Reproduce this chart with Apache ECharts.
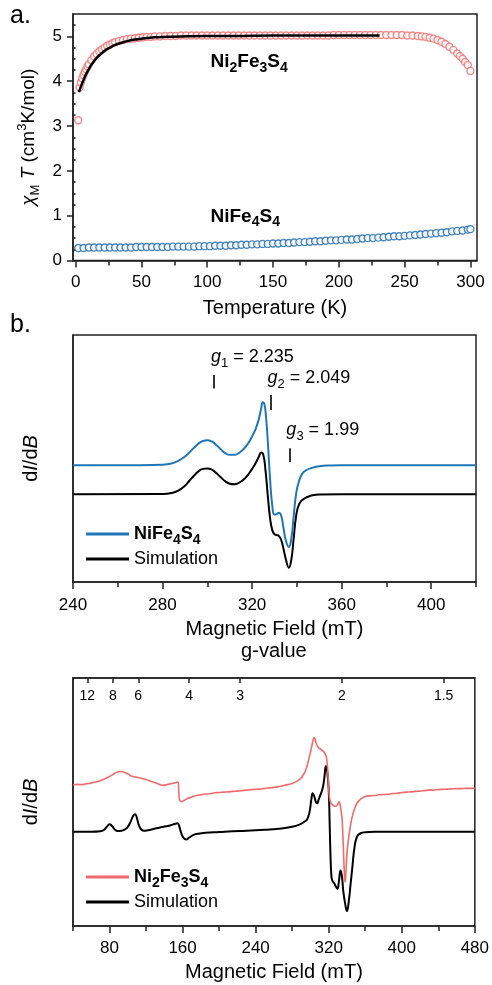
<!DOCTYPE html>
<html><head><meta charset="utf-8">
<script src="https://cdn.jsdelivr.net/npm/echarts@6/dist/echarts.min.js"></script>
<style>html,body{margin:0;padding:0;background:#fff}#c{width:492px;height:985px}</style>
</head><body><div id="c"></div>
<script>
// ---------- Panel a: chi_M T vs T ----------
const redT = [2,3,4,5,6,7,8,9,10,12,14,16,18,20,22,24,26,28,30,33,36,39,42,45,48,51,54,57,60,64,68,72,76,80,84,88,92,96,100,104,108,112,116,120,124,128,132,136,140,144,148,152,156,160,164,168,172,176,180,184,188,192,196,200,204,208,212,216,220,224,228,232,236,240,244,248,252,256,260,263,266,269,272,275,278,281,284,287,290,292,294,296,298,300];
const redChiT = [3.13,3.86,3.97,4.06,4.14,4.21,4.27,4.33,4.38,4.47,4.55,4.61,4.67,4.71,4.75,4.79,4.82,4.85,4.87,4.90,4.92,4.94,4.95,4.96,4.97,4.98,4.99,4.99,5.00,5.00,5.01,5.01,5.01,5.02,5.02,5.02,5.02,5.02,5.02,5.02,5.02,5.02,5.02,5.02,5.02,5.02,5.02,5.02,5.02,5.02,5.02,5.02,5.02,5.02,5.02,5.02,5.02,5.02,5.02,5.02,5.02,5.02,5.03,5.03,5.03,5.03,5.03,5.03,5.03,5.03,5.03,5.03,5.03,5.03,5.03,5.03,5.02,5.02,5.01,5.00,4.99,4.97,4.95,4.92,4.88,4.83,4.77,4.70,4.62,4.56,4.50,4.43,4.36,4.23];
const blueT = [2,6,10,14,18,22,26,30,34,38,42,46,50,54,58,62,66,70,74,78,82,86,90,94,98,102,106,110,114,118,122,126,130,134,138,142,146,150,154,158,162,166,170,174,178,182,186,190,194,198,202,206,210,214,218,222,226,230,234,238,242,246,250,254,258,262,266,270,274,278,282,286,290,294,298,300];
const blueChiT = [0.28,0.28,0.29,0.29,0.29,0.29,0.29,0.29,0.29,0.29,0.29,0.30,0.30,0.30,0.30,0.30,0.30,0.30,0.31,0.31,0.31,0.31,0.31,0.32,0.32,0.32,0.33,0.33,0.33,0.34,0.34,0.35,0.35,0.36,0.36,0.37,0.37,0.38,0.38,0.39,0.39,0.40,0.41,0.41,0.42,0.43,0.43,0.44,0.45,0.45,0.46,0.47,0.47,0.48,0.49,0.50,0.50,0.51,0.52,0.53,0.54,0.54,0.55,0.56,0.57,0.58,0.59,0.60,0.61,0.62,0.63,0.65,0.66,0.67,0.69,0.70];
const fitT = [2.5,4,6,8,10,12,14,16,18,20,23,26,30,35,40,45,50,60,70,80,100,120,150,180,210,231];
const fitChiT = [3.76,3.88,4.03,4.16,4.27,4.37,4.45,4.52,4.58,4.63,4.70,4.75,4.81,4.86,4.90,4.93,4.95,4.98,4.99,5.00,5.01,5.01,5.02,5.02,5.02,5.02];
const tempLabels = [0,50,100,150,200,250,300];
const tempMinor = [25,75,125,175,225,275];
const chiLabels = [0,1,2,3,4,5];
const chiMinor = [0.25,0.5,0.75,1.25,1.5,1.75,2.25,2.5,2.75,3.25,3.5,3.75,4.25,4.5,4.75,5.25];

// ---------- Panel b: NiFe4S4 EPR ----------
const fieldB_exp = [240,270,280,284,287,290,292,294,296,298,300,302,304,306,308,310,312,314,316,318,320,321.5,323,324,324.8,325.5,326.2,327,328,329,330,331,332,333,334,335,336.4,337.5,338.5,339.7,341,342.5,344.2,347,350,355,360,420];
const intB_exp = [47.3,47.3,47.5,48,49,50.8,52.5,54.3,56,57.1,57.4,56.9,55.5,53.7,52.2,51.5,51.5,52.2,53.7,55.8,59,61.8,66,70,72.8,72,67,57,42,31,27.3,27.5,28,26.8,22,17,14.2,17.5,26,36,41,44,45.3,46.3,46.9,47.2,47.3,47.3];
const fieldB_sim = [240,280,284,287,290,292,294,296,298,300,302,304,306,308,310,312,314,316,318,320,321.5,323,324,325,326,327,328,329,330,331,332,333,334,335,336.4,337.5,338.5,339.7,341,342.7,345,347,350,360,420];
const intB_sim = [35.5,35.6,36,37,39,41,43,44.8,45.8,46,45.5,44.1,42.4,40.8,39.8,39.6,40.1,41.3,43.2,45.8,48,50.7,52.4,51.5,45,35,26,21,19.3,19,18.6,17,13.5,9.5,5.8,9,17,27,31.5,33.4,34.5,35.1,35.4,35.5,35.5];
const fieldTicksB = [240,280,320,360,400];
const fieldMinorB = [260,300,340,380,420];
const gMarkField = [302.9,328.3,336.7];
const gNames = ['1','2','3'];
const gVals = ['2.235','2.049','1.99'];

// ---------- Panel c: Ni2Fe3S4 EPR ----------
const fieldC_exp = [40,45,50,55,60,65,70,75,80,85,88,92,96,100,103,106,110,115,120,125,130,135,138,142,146,150,153,155,156,157,159,162,166,170,175,180,185,190,195,200,205,210,215,220,225,230,235,240,245,250,255,260,265,270,275,280,285,289,292,295,298,300,302,304,305,306.5,308,310,312,314.5,316,317.5,318.5,319.5,320.5,321.5,323,325,327,329,330.5,331.5,332.5,333.5,334.5,335.5,336.5,337.5,338.2,339,340,342,343.6,345.4,348,350.9,355,360,365,370,375,380,385,390,395,400,405,410,415,420,425,430,435,440,445,450,455,460,465,470,475,480];
const intC_exp = [56.9,57.1,57.0,57.4,57.6,58.1,58.6,59.4,60.3,61.4,62.0,62.3,62.0,61.4,60.6,60.2,60.0,59.6,59.1,58.4,57.8,57.1,56.7,56.9,57.3,57.6,57.9,58.1,52.5,50.6,50.1,50.7,51.5,52.0,52.6,52.9,53.2,53.3,53.7,53.8,54.0,54.1,54.3,54.4,54.6,54.8,55.0,55.1,55.2,55.5,55.7,55.9,56.2,56.6,57.0,57.5,58.3,59.4,60.8,63,67,70,73.5,76,75.5,73.5,72.3,71.6,71,70.3,69.5,68,65,59,53,50.5,49.3,48.6,48.3,48.5,49.6,50.1,49,46.5,44,37,27,19,17.8,23,29.3,36,40,43.5,47,49.5,51.2,52.2,52.5,52.6,52.9,53.0,53.1,53.4,53.5,53.8,54.0,54.1,54.3,54.4,54.6,54.8,54.8,55.0,55.1,55.2,55.3,55.4,55.4,55.5,55.5,55.5];
const fieldC_sim = [40,60,70,74,77,80,83,86,89,93,97,100,103,106,108,110,112,115,118,122,127,131,136,142,147,151,154.5,156.5,158.5,161,163.8,167,171,175,185,200,215,230,250,265,280,288,293,296.4,299,301,302.5,304,306,307.5,309,311,313,315,317,318.5,320,321,322,323,324,326,328,329.5,331,333,334.5,336,338,340,342,344,346,348,351,355,360,370,480];
const intC_sim = [38.0,38.0,38.2,38.8,40,41,40.2,38.8,38.3,38.4,39,40,42,44.5,45.1,43.5,40.8,38.8,38.4,38.6,39,39.4,39.8,40.2,40.6,41.1,41.4,40,37.5,35.5,34.9,35.6,36.5,37.1,37.6,37.9,38.2,38.4,38.8,39.2,40,40.9,42,43,46,51,53.5,52.5,50,49.5,51,53,55,59,64.5,62,55,42,28,20,18.3,17.2,15.8,15,17.5,22.4,20,14,9,6,10,17,24,31,36,37.4,37.8,38,38];
const fieldTicksC = [80,160,240,320,400,480];
const fieldMinorC = [40,120,200,280,360,440];
const gTopTicks = [12,8,6,4,3,2,1.5];
const mwFreqGHz = 9.36;

// ---------- helpers ----------
const zip = (a, b) => a.map((v, i) => [v, b[i]]);
const F = 'Liberation Sans, Arial, sans-serif';
const RED = '#f26b6b', BLUE_A = '#1a69aa', BLUE_B = '#1f77b7', AX = '#222';
const gToField = g => 71.4477 * mwFreqGHz / g;
const gTopFields = gTopTicks.map(gToField);

const subRich = (size) => ({
  b: {fontFamily: F, fontWeight: 'bold', fontSize: size, lineHeight: 26, color: '#000', opacity: 1},
  bs: {fontFamily: F, fontWeight: 'bold', fontSize: Math.round(size * 0.75), lineHeight: 15, verticalAlign: 'bottom', color: '#000', opacity: 1},
  n: {fontFamily: F, fontSize: size, lineHeight: 26, color: '#000', opacity: 1},
  gi: {fontFamily: F, fontStyle: 'italic', fontSize: size, lineHeight: 26, color: '#000', opacity: 1},
  s: {fontFamily: F, fontSize: Math.round(size * 0.72), lineHeight: 15, verticalAlign: 'bottom', color: '#000', opacity: 1}
});
const formula = name => {
  if (name === 'NiFe4S4') return '{b|NiFe}{bs|4}{b|S}{bs|4}';
  if (name === 'Ni2Fe3S4') return '{b|Ni}{bs|2}{b|Fe}{bs|3}{b|S}{bs|4}';
  return '{n|' + name + '}';
};

const mainX = (grid, min, max, labels, ticks, margin, name, gap) => ({
  type: 'value', gridIndex: grid, position: 'bottom', min, max,
  name, nameLocation: 'middle', nameGap: gap,
  nameTextStyle: {fontFamily: F, fontSize: 20, color: '#000'},
  axisLine: {show: true, onZero: false, lineStyle: {color: AX, width: 1.5}},
  axisTick: {show: true, inside: false, length: 7, customValues: ticks, lineStyle: {color: AX, width: 1.5}},
  axisLabel: {show: true, margin, customValues: labels, fontFamily: F, fontSize: 17, color: '#000'},
  splitLine: {show: false}
});
const minorX = (grid, min, max, ticks) => ({
  type: 'value', gridIndex: grid, position: 'bottom', min, max,
  axisLine: {show: false}, axisLabel: {show: false}, splitLine: {show: false},
  axisTick: {show: true, inside: false, length: 5, customValues: ticks, lineStyle: {color: AX, width: 1.5}}
});
const eprY = (grid) => ({
  type: 'value', gridIndex: grid, min: 0, max: 100, position: 'left',
  name: '{n|d}{i|I}{n|/d}{i|B}', nameLocation: 'middle', nameGap: 32,
  nameTextStyle: {fontFamily: F, fontSize: 20, color: '#000',
    rich: {n: {fontFamily: F, fontSize: 20, color: '#000'}, i: {fontFamily: F, fontSize: 20, fontStyle: 'italic', color: '#000'}}},
  axisLine: {show: true, lineStyle: {color: AX, width: 1.5}},
  axisTick: {show: false}, axisLabel: {show: false}, splitLine: {show: false}
});
const textLabel = (rich, fmt) => ({show: true, position: 'right', distance: 0, color: '#000', opacity: 1, formatter: fmt, rich});

const option = {
  animation: false,
  backgroundColor: '#fff',
  graphic: [
    {type: 'text', left: 10, top: 4, style: {text: 'a.', font: '25px ' + F, fill: '#000'}},
    {type: 'text', left: 10, top: 313, style: {text: 'b.', font: '25px ' + F, fill: '#000'}}
  ],
  grid: [
    {left: 73, top: 14, width: 404, height: 246.5, show: true, borderColor: AX, borderWidth: 1.5, backgroundColor: 'transparent'},
    {left: 73, top: 335, width: 403, height: 247, show: true, borderColor: AX, borderWidth: 1.5, backgroundColor: 'transparent'},
    {left: 73, top: 678, width: 403, height: 248, show: true, borderColor: AX, borderWidth: 1.5, backgroundColor: 'transparent'}
  ],
  xAxis: [
    mainX(0, -2, 305, tempLabels, tempLabels, 13, 'Temperature (K)', 38),
    minorX(0, -2, 305, tempMinor),
    mainX(1, 240, 420, fieldTicksB, fieldTicksB, 15, 'Magnetic Field (mT)', 37),
    minorX(1, 240, 420, fieldMinorB),
    mainX(2, 40, 480, fieldTicksC, fieldTicksC, 14, 'Magnetic Field (mT)', 36),
    minorX(2, 40, 480, fieldMinorC),
    {
      type: 'value', gridIndex: 2, position: 'top', min: 40, max: 480,
      name: 'g-value', nameLocation: 'middle', nameGap: 17,
      nameTextStyle: {fontFamily: F, fontSize: 20, color: '#000'},
      axisLine: {show: true, lineStyle: {color: AX, width: 1.5}},
      axisTick: {show: true, inside: true, length: 5, customValues: gTopFields, lineStyle: {color: AX, width: 1.5}},
      axisLabel: {show: true, inside: true, margin: 11, customValues: gTopFields, fontFamily: F, fontSize: 14, color: '#000',
        formatter: v => String(Math.round(71.4477 * mwFreqGHz / v * 10) / 10)},
      splitLine: {show: false}
    }
  ],
  yAxis: [
    {
      type: 'value', gridIndex: 0, min: 0, max: 5.5, position: 'left',
      name: '{ci|χ}{sub|M}{n| }{ti|T}{n| (cm}{sup|3}{n|K/mol)}', nameLocation: 'middle', nameGap: 29,
      nameTextStyle: {fontFamily: F, fontSize: 19, color: '#000', rich: {
        n: {fontFamily: F, fontSize: 19, lineHeight: 26, color: '#000'},
        ci: {fontFamily: F, fontSize: 19, lineHeight: 26, fontStyle: 'italic', color: '#000'},
        ti: {fontFamily: F, fontSize: 19, lineHeight: 26, fontStyle: 'italic', color: '#000'},
        sub: {fontFamily: F, fontSize: 13, lineHeight: 14, verticalAlign: 'bottom', color: '#000'},
        sup: {fontFamily: F, fontSize: 13, lineHeight: 14, verticalAlign: 'top', color: '#000'}
      }},
      axisLine: {show: true, onZero: false, lineStyle: {color: AX, width: 1.5}},
      axisTick: {show: true, length: 6, customValues: chiLabels, lineStyle: {color: AX, width: 1.5}},
      axisLabel: {show: true, margin: 11, customValues: chiLabels, fontFamily: F, fontSize: 17, color: '#000'},
      splitLine: {show: false}
    },
    {
      type: 'value', gridIndex: 0, min: 0, max: 5.5, position: 'left',
      axisLine: {show: false}, axisLabel: {show: false}, splitLine: {show: false},
      axisTick: {show: true, length: 3.5, customValues: chiMinor, lineStyle: {color: AX, width: 1.5}}
    },
    eprY(1),
    eprY(2)
  ],
  legend: [
    {
      data: ['NiFe4S4', 'Simulation'], orient: 'vertical', left: 81, top: 520,
      icon: 'rect', itemWidth: 43, itemHeight: 3, itemGap: 3, itemTextGap: 6,
      formatter: formula, textStyle: {fontFamily: F, fontSize: 18, color: '#000', rich: subRich(18)},
      selectedMode: false
    },
    {
      data: ['Ni2Fe3S4', 'Simulation'], orient: 'vertical', left: 81, top: 863,
      icon: 'rect', itemWidth: 43, itemHeight: 3, itemGap: 3, itemTextGap: 6,
      formatter: formula, textStyle: {fontFamily: F, fontSize: 18, color: '#000', rich: subRich(18)},
      selectedMode: false
    }
  ],
  series: [
    {type: 'scatter', name: 'chiT Ni2Fe3S4', xAxisIndex: 0, yAxisIndex: 0, data: zip(redT, redChiT),
      symbol: 'circle', symbolSize: 7, itemStyle: {color: '#fff', borderColor: RED, borderWidth: 1.4}, z: 2},
    {type: 'scatter', name: 'chiT NiFe4S4', xAxisIndex: 0, yAxisIndex: 0, data: zip(blueT, blueChiT),
      symbol: 'circle', symbolSize: 7, itemStyle: {color: '#fff', borderColor: BLUE_A, borderWidth: 1.4}, z: 2},
    {type: 'line', name: 'fit', xAxisIndex: 0, yAxisIndex: 0, data: zip(fitT, fitChiT), smooth: 0.4,
      symbol: 'none', lineStyle: {color: '#000', width: 2.5}, z: 5},
    {type: 'scatter', name: 'labelsA', xAxisIndex: 0, yAxisIndex: 0, symbolSize: 0, silent: true, z: 6,
      itemStyle: {color: '#000', opacity: 1},
      data: [[102.5, 4.43, 'Ni2Fe3S4'], [102.5, 0.98, 'NiFe4S4']],
      label: textLabel(subRich(19), p => formula(p.data[2]))},

    {type: 'line', name: 'NiFe4S4', xAxisIndex: 2, yAxisIndex: 2, data: zip(fieldB_exp, intB_exp), smooth: 0.5,
      symbol: 'none', lineStyle: {color: BLUE_B, width: 2}, itemStyle: {color: BLUE_B}, z: 4,
      markLine: {silent: true, symbol: 'none', label: {show: false}, lineStyle: {color: '#000', width: 1.6, type: 'solid'},
        data: [
          [{coord: [gMarkField[0], 78.3]}, {coord: [gMarkField[0], 83.8]}],
          [{coord: [gMarkField[1], 69.6]}, {coord: [gMarkField[1], 75.7]}],
          [{coord: [gMarkField[2], 48.6]}, {coord: [gMarkField[2], 54.2]}]
        ]}},
    {type: 'line', name: 'Simulation', xAxisIndex: 2, yAxisIndex: 2, data: zip(fieldB_sim, intB_sim), smooth: 0.5,
      symbol: 'none', lineStyle: {color: '#000', width: 2}, itemStyle: {color: '#000'}, z: 3},
    {type: 'scatter', name: 'gLabels', xAxisIndex: 2, yAxisIndex: 2, symbolSize: 0, silent: true, z: 6,
      itemStyle: {color: '#000', opacity: 1},
      data: [[301.6, 91.2], [326.9, 82.6], [335.3, 61.5]],
      label: textLabel(subRich(18), p => '{gi|g}{s|' + gNames[p.dataIndex] + '}{n| = ' + gVals[p.dataIndex] + '}')},

    {type: 'line', name: 'Ni2Fe3S4', xAxisIndex: 4, yAxisIndex: 3, data: zip(fieldC_exp, intC_exp), smooth: 0.3,
      symbol: 'none', lineStyle: {color: RED, width: 1.6}, itemStyle: {color: RED}, z: 4},
    {type: 'line', name: 'Simulation', xAxisIndex: 4, yAxisIndex: 3, data: zip(fieldC_sim, intC_sim), smooth: 0.5,
      symbol: 'none', lineStyle: {color: '#000', width: 2}, itemStyle: {color: '#000'}, z: 3}
  ]
};
const chart = echarts.init(document.getElementById('c'), null, {renderer: 'canvas'});
chart.setOption(option);
</script></body></html>
